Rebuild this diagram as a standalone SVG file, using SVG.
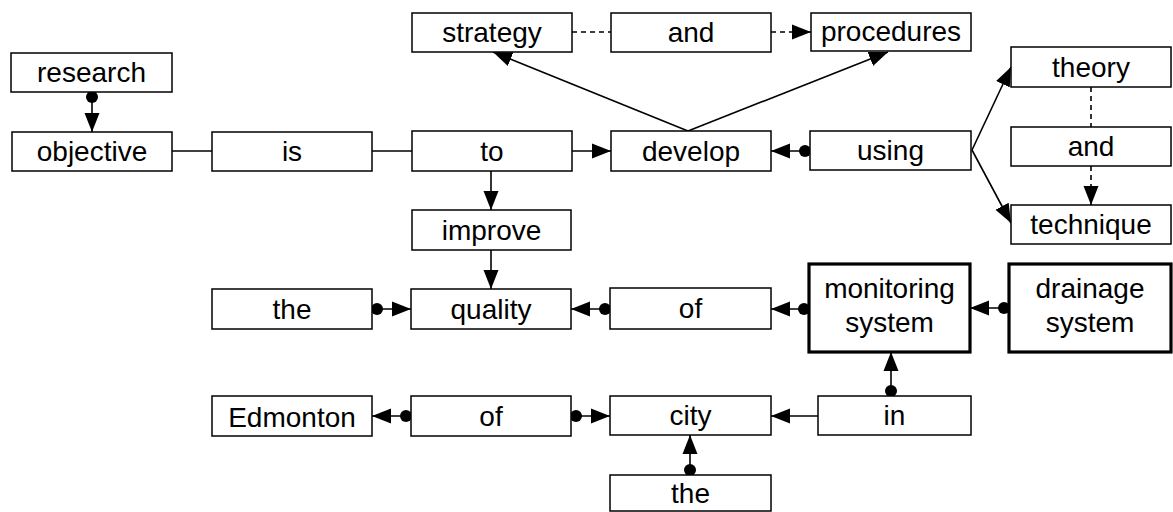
<svg xmlns="http://www.w3.org/2000/svg" width="1173" height="512" viewBox="0 0 1173 512">
  <style>
    .box { fill: #fff; stroke: #000; stroke-width: 1.5; }
    .bold { fill: #fff; stroke: #000; stroke-width: 3.2; }
    .lbl { font-family: "Liberation Sans", Arial, sans-serif; font-size: 28px; fill: #000; text-anchor: middle; }
    .link { fill: none; stroke: #000; stroke-width: 1.6; }
    .dash { stroke-dasharray: 5 4; }
  </style>
  <defs>
    <!-- filled arrowhead, tip on the line end -->
    <marker id="arrow" markerUnits="userSpaceOnUse" markerWidth="20" markerHeight="16" refX="19" refY="8" orient="auto">
      <path d="M0,0.5 L19,8 L0,15.5 z" fill="#000"/>
    </marker>
    <!-- round tail dot at the line start -->
    <marker id="dot" markerUnits="userSpaceOnUse" markerWidth="13" markerHeight="13" refX="6.5" refY="6.5" orient="auto">
      <circle cx="6.5" cy="6.5" r="6" fill="#000"/>
    </marker>
  </defs>

  <rect width="1173" height="512" fill="#fff"/>

  <!-- connectors -->
  <g id="connectors" class="link">
    <line x1="92" y1="97" x2="92" y2="132" marker-start="url(#dot)" marker-end="url(#arrow)"/>
    <line x1="172" y1="151" x2="212" y2="151"/>
    <line x1="372" y1="151" x2="412" y2="151"/>
    <line x1="572" y1="151" x2="611" y2="151" marker-end="url(#arrow)"/>
    <line x1="491" y1="171" x2="491" y2="210" marker-end="url(#arrow)"/>
    <line x1="688" y1="131" x2="493" y2="52" marker-end="url(#arrow)"/>
    <line x1="688" y1="131" x2="888" y2="52" marker-end="url(#arrow)"/>
    <line class="dash" x1="572" y1="32" x2="611" y2="32"/>
    <line class="dash" x1="771" y1="32" x2="811" y2="32" marker-end="url(#arrow)"/>
    <line x1="805" y1="151" x2="771" y2="151" marker-start="url(#dot)" marker-end="url(#arrow)"/>
    <line x1="972" y1="150" x2="1011" y2="67" marker-end="url(#arrow)"/>
    <line x1="972" y1="150" x2="1011" y2="223" marker-end="url(#arrow)"/>
    <line class="dash" x1="1091" y1="87" x2="1091" y2="127"/>
    <line class="dash" x1="1091" y1="166" x2="1091" y2="205" marker-end="url(#arrow)"/>
    <line x1="491" y1="250" x2="491" y2="289" marker-end="url(#arrow)"/>
    <line x1="377" y1="309" x2="411" y2="309" marker-start="url(#dot)" marker-end="url(#arrow)"/>
    <line x1="605" y1="309" x2="571" y2="309" marker-start="url(#dot)" marker-end="url(#arrow)"/>
    <line x1="804" y1="309" x2="771" y2="309" marker-start="url(#dot)" marker-end="url(#arrow)"/>
    <line x1="1004" y1="308" x2="970" y2="308" marker-start="url(#dot)" marker-end="url(#arrow)"/>
    <line x1="891" y1="391" x2="891" y2="352" marker-start="url(#dot)" marker-end="url(#arrow)"/>
    <line x1="406" y1="416" x2="372" y2="416" marker-start="url(#dot)" marker-end="url(#arrow)"/>
    <line x1="576" y1="416" x2="610" y2="416" marker-start="url(#dot)" marker-end="url(#arrow)"/>
    <line x1="818" y1="416" x2="771" y2="416" marker-end="url(#arrow)"/>
    <line x1="690" y1="470" x2="690" y2="435" marker-start="url(#dot)" marker-end="url(#arrow)"/>
  </g>

  <!-- nodes -->
  <g id="research"><rect class="box" x="11" y="53" width="161" height="39"/><text class="lbl" x="91.5" y="82">research</text></g>
  <g id="objective"><rect class="box" x="12" y="132" width="160" height="39"/><text class="lbl" x="92" y="161">objective</text></g>
  <g id="is"><rect class="box" x="212" y="132" width="160" height="39"/><text class="lbl" x="292" y="161">is</text></g>
  <g id="to"><rect class="box" x="412" y="131" width="160" height="40"/><text class="lbl" x="492" y="161">to</text></g>
  <g id="strategy"><rect class="box" x="412" y="13" width="160" height="39"/><text class="lbl" x="492" y="42">strategy</text></g>
  <g id="and-top"><rect class="box" x="611" y="13" width="160" height="39"/><text class="lbl" x="691" y="42">and</text></g>
  <g id="procedures"><rect class="box" x="811" y="13" width="160" height="38"/><text class="lbl" x="891" y="41" font-size="26">procedures</text></g>
  <g id="develop"><rect class="box" x="611" y="131" width="160" height="40"/><text class="lbl" x="691" y="161">develop</text></g>
  <g id="using"><rect class="box" x="810" y="131" width="161" height="39"/><text class="lbl" x="890.5" y="160">using</text></g>
  <g id="theory"><rect class="box" x="1011" y="47" width="160" height="40"/><text class="lbl" x="1091" y="77">theory</text></g>
  <g id="and-right"><rect class="box" x="1011" y="127" width="160" height="39"/><text class="lbl" x="1091" y="156">and</text></g>
  <g id="technique"><rect class="box" x="1011" y="205" width="160" height="39"/><text class="lbl" x="1091" y="234">technique</text></g>
  <g id="improve"><rect class="box" x="412" y="210" width="159" height="40"/><text class="lbl" x="491.5" y="240">improve</text></g>
  <g id="the-left"><rect class="box" x="212" y="289" width="160" height="40"/><text class="lbl" x="292" y="319">the</text></g>
  <g id="quality"><rect class="box" x="411" y="289" width="160" height="40"/><text class="lbl" x="491" y="319">quality</text></g>
  <g id="of-mid"><rect class="box" x="610" y="288" width="161" height="41"/><text class="lbl" x="690.5" y="318">of</text></g>
  <g id="monitoring-system"><rect class="bold" x="809" y="264" width="161" height="88"/><text class="lbl" x="889.5" y="298">monitoring</text><text class="lbl" x="889.5" y="332">system</text></g>
  <g id="drainage-system"><rect class="bold" x="1009" y="264" width="162" height="88"/><text class="lbl" x="1090" y="298">drainage</text><text class="lbl" x="1090" y="332">system</text></g>
  <g id="edmonton"><rect class="box" x="212" y="396" width="160" height="40"/><text class="lbl" x="292" y="427" font-size="30">Edmonton</text></g>
  <g id="of-low"><rect class="box" x="411" y="396" width="160" height="40"/><text class="lbl" x="491" y="426">of</text></g>
  <g id="city"><rect class="box" x="610" y="396" width="161" height="39"/><text class="lbl" x="690.5" y="425">city</text></g>
  <g id="in"><rect class="box" x="818" y="396" width="153" height="39"/><text class="lbl" x="894.5" y="425">in</text></g>
  <g id="the-bottom"><rect class="box" x="610" y="475" width="161" height="36"/><text class="lbl" x="690.5" y="503">the</text></g>
</svg>
